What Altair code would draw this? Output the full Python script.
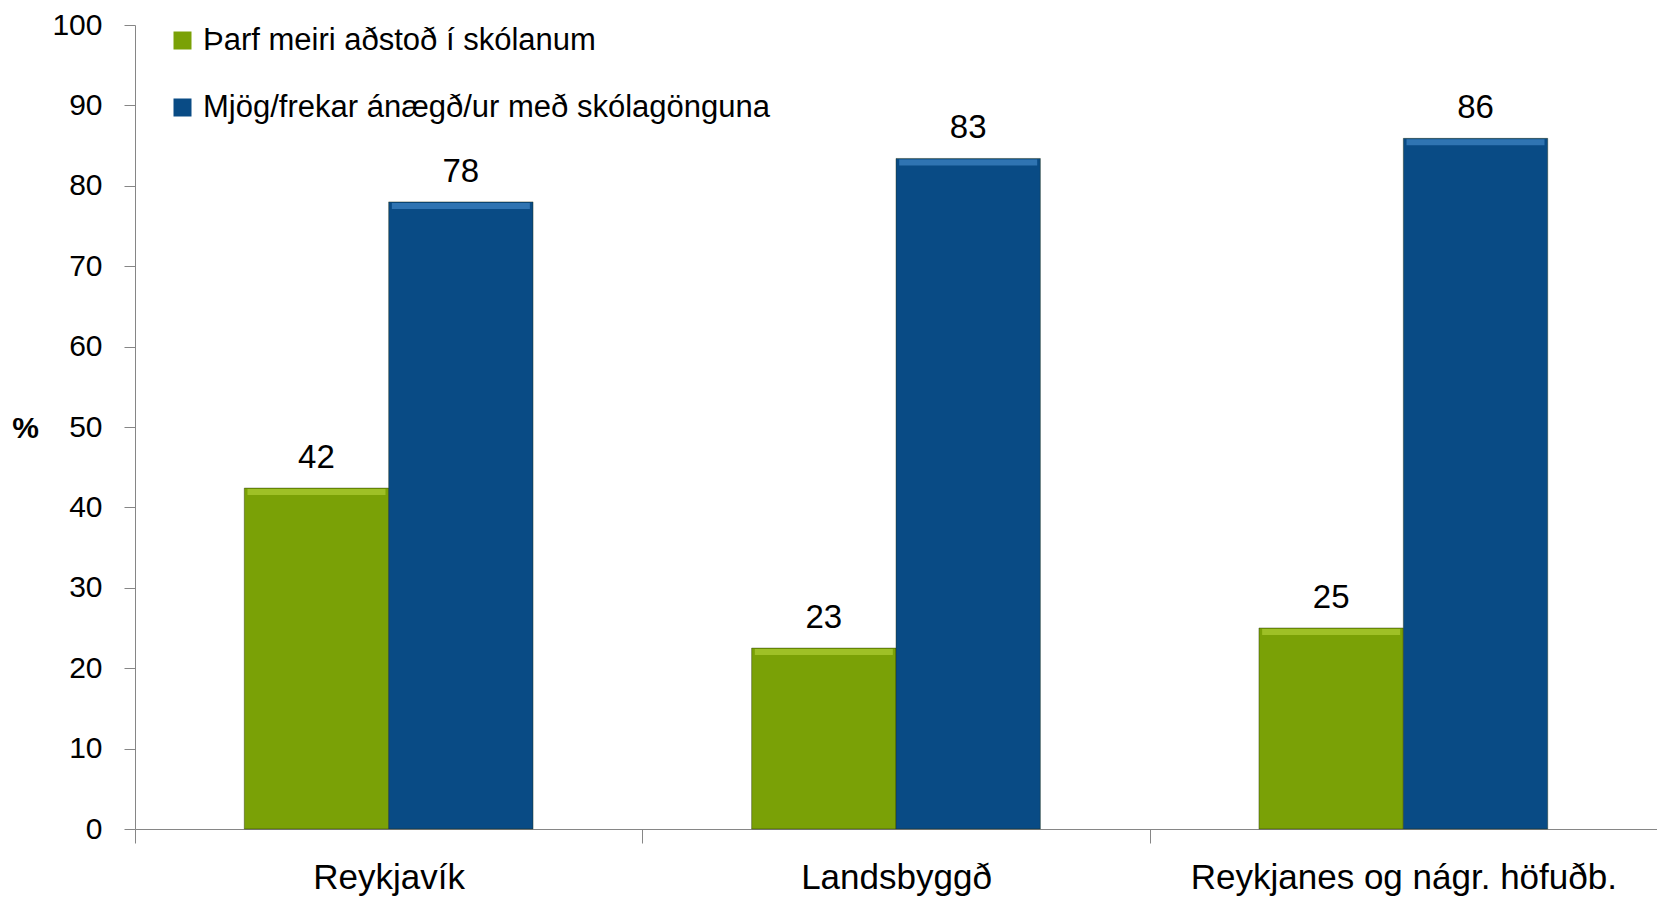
import altair as alt
import pandas as pd

categories = ["Reykjavík", "Landsbyggð", "Reykjanes og nágr. höfuðb."]
series = ["Þarf meiri aðstoð í skólanum", "Mjög/frekar ánægð/ur með skólagönguna"]
green_values = [42.4, 22.5, 25.0]
blue_values = [78.0, 83.4, 85.9]
green_labels = ["42", "23", "25"]
blue_labels = ["78", "83", "86"]
y_ticks = [0, 10, 20, 30, 40, 50, 60, 70, 80, 90, 100]

rows = []
for c, v, l in zip(categories, green_values, green_labels):
    rows.append({"cat": c, "series": series[0], "value": v, "label": l})
for c, v, l in zip(categories, blue_values, blue_labels):
    rows.append({"cat": c, "series": series[1], "value": v, "label": l})
df = pd.DataFrame(rows)

FONT = "Liberation Sans Narrow, Arial Narrow, Liberation Sans, Arial, sans-serif"
GREEN = "#7aa106"
BLUE = "#094b85"
GRAY = "#868686"

x_enc = alt.X(
    "cat:N", sort=categories,
    scale=alt.Scale(paddingInner=0, paddingOuter=0),
    axis=alt.Axis(title=None, tickBand="extent", tickSize=14, labelPadding=17,
                  labelFontSize=35, labelFont=FONT, labelColor="#000000", labelLimit=0,
                  labelAngle=0, domainColor=GRAY, tickColor=GRAY, labelBaseline="top"),
)
xoff_enc = alt.XOffset("series:N", sort=series,
                       scale=alt.Scale(paddingInner=0, paddingOuter=0.757))
y_enc = alt.Y(
    "value:Q", scale=alt.Scale(domain=[0, 100], nice=False),
    axis=alt.Axis(values=y_ticks, tickSize=11, labelPadding=22, labelFontSize=30,
                  labelFont=FONT, labelColor="#000000", domainColor=GRAY, tickColor=GRAY,
                  grid=False, title="%", titleAngle=0, titleX=-110, titleY=403,
                  titleFontSize=30, titleFont="Liberation Sans, Arial, sans-serif",
                  titleFontWeight="bold", titleAlign="center", titleBaseline="middle",
                  titleColor="#000000"),
)

color_enc = alt.Color(
    "series:N", sort=series,
    scale=alt.Scale(domain=series, range=[GREEN, BLUE]),
    legend=alt.Legend(orient="none", legendX=32, legendY=0, title=None,
                      symbolType="square", symbolSize=324, symbolStrokeWidth=0,
                      labelFontSize=31, labelFont=FONT, labelColor="#000000", labelLimit=0,
                      rowPadding=35, labelOffset=5, direction="vertical"),
)

base = alt.Chart(df).encode(x=x_enc, xOffset=xoff_enc, y=y_enc)

bars = base.mark_bar(strokeWidth=1, stroke="#1f2a08", strokeOpacity=0.4).encode(color=color_enc)

highlight = base.mark_tick(thickness=6, size=138, yOffset=4, opacity=0.6).encode(
    color=alt.Color("series:N", scale=alt.Scale(domain=series, range=["#b5d63c", "#4a8fd0"]),
                    legend=None)
)

labels = base.mark_text(baseline="bottom", dy=-13, fontSize=33, font=FONT, color="#000000").encode(
    text="label:N"
)

chart = alt.layer(bars, highlight, labels).resolve_scale(color="independent").properties(
    width=1522, height=804,
    autosize=alt.AutoSizeParams(type="none"),
    padding={"left": 127, "top": 17, "right": 0, "bottom": 70},
).configure_view(stroke=None)

chart.save("out.html", embed_options={"renderer": "svg", "actions": False})
